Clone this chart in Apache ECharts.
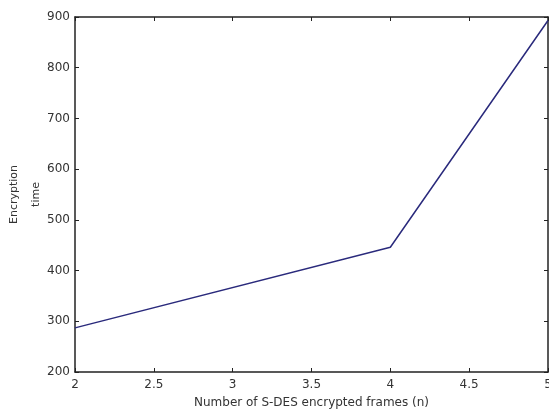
<!DOCTYPE html>
<html><head><meta charset="utf-8">
<script src="https://cdn.jsdelivr.net/npm/echarts@6/dist/echarts.min.js"></script>
<style>html,body{margin:0;padding:0;background:#fff}#c{width:549px;height:410px}</style>
</head><body><div id="c"></div>
<script>
const framesN = [2, 4, 5];
const encTime = [287, 446, 893];
const xTicks = [2, 2.5, 3, 3.5, 4, 4.5, 5];
const yTicks = [200, 300, 400, 500, 600, 700, 800, 900];
const xTitle = 'Number of S-DES encrypted frames (n)';
const yTitle = 'Encryption\ntime';

const chart = echarts.init(document.getElementById('c'));
const font = 'DejaVu Sans, sans-serif';
const axisBase = {
  type: 'value',
  axisLine: {show: true, onZero: false, lineStyle: {color: '#222', width: 1.5}},
  axisTick: {show: true, inside: true, length: 4, lineStyle: {color: '#222'}},
  splitLine: {show: false}
};
chart.setOption({
  animation: false,
  grid: {left: 75, right: 1, top: 17, bottom: 38, containLabel: false, outerBoundsMode: 'none'},
  xAxis: [
    Object.assign({}, axisBase, {
      min: xTicks[0], max: xTicks[xTicks.length-1], interval: 0.5, position: 'bottom',
      axisLabel: {color: '#333', fontFamily: font, fontSize: 12, margin: 7,
        formatter: v => String(v)},
      name: xTitle, nameLocation: 'middle', nameGap: 25, nameMoveOverlap: false,
      nameTextStyle: {color: '#333', fontFamily: font, fontSize: 12}
    }),
    Object.assign({}, axisBase, {
      min: xTicks[0], max: xTicks[xTicks.length-1], interval: 0.5, position: 'top',
      axisLabel: {show: false}
    })
  ],
  yAxis: [
    Object.assign({}, axisBase, {
      min: yTicks[0], max: yTicks[yTicks.length-1], interval: 100, position: 'left',
      axisLabel: {color: '#333', fontFamily: font, fontSize: 12, margin: 5},
      name: yTitle, nameLocation: 'middle', nameGap: 28, nameRotate: 90, nameMoveOverlap: false,
      nameTextStyle: {color: '#333', fontFamily: font, fontSize: 11, lineHeight: 22}
    }),
    Object.assign({}, axisBase, {
      min: yTicks[0], max: yTicks[yTicks.length-1], interval: 100, position: 'right',
      axisLabel: {show: false}
    })
  ],
  series: [{
    type: 'line',
    data: framesN.map((x, i) => [x, encTime[i]]),
    symbol: 'none',
    lineStyle: {color: '#2a2a7c', width: 1.5}
  }]
});
</script></body></html>
